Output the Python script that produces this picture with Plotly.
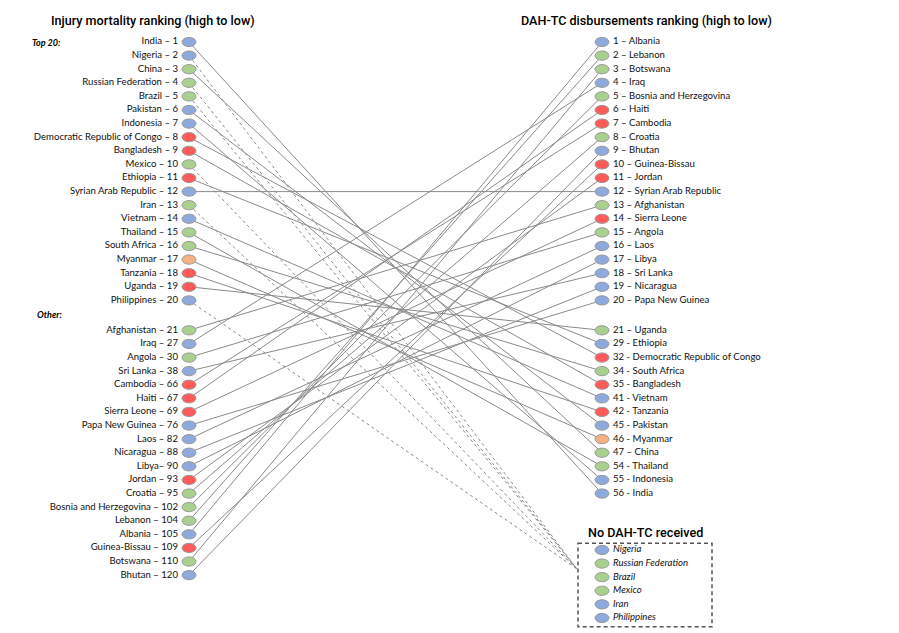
import plotly.graph_objects as go

# ---------------- data ----------------
left_top_names = ["India", "Nigeria", "China", "Russian Federation", "Brazil", "Pakistan",
                  "Indonesia", "Democratic Republic of Congo", "Bangladesh", "Mexico",
                  "Ethiopia", "Syrian Arab Republic", "Iran", "Vietnam", "Thailand",
                  "South Africa", "Myanmar", "Tanzania", "Uganda", "Philippines"]
left_top_ranks = list(range(1, 21))
left_top_colors = ["B", "B", "G", "G", "G", "B", "B", "R", "R", "G",
                   "R", "B", "G", "B", "G", "G", "O", "R", "R", "B"]

left_other_names = ["Afghanistan", "Iraq", "Angola", "Sri Lanka", "Cambodia", "Haiti",
                    "Sierra Leone", "Papa New Guinea", "Laos", "Nicaragua", "Libya",
                    "Jordan", "Croatia", "Bosnia and Herzegovina", "Lebanon", "Albania",
                    "Guinea-Bissau", "Botswana", "Bhutan"]
left_other_ranks = [21, 27, 30, 38, 66, 67, 69, 76, 82, 88, 90, 93, 95, 102, 104, 105, 109, 110, 120]
left_other_colors = ["G", "B", "G", "B", "R", "R", "R", "B", "B", "B", "B",
                     "R", "G", "G", "G", "B", "R", "G", "B"]

right_top_names = ["Albania", "Lebanon", "Botswana", "Iraq", "Bosnia and Herzegovina", "Haiti",
                   "Cambodia", "Croatia", "Bhutan", "Guinea-Bissau", "Jordan",
                   "Syrian Arab Republic", "Afghanistan", "Sierra Leone", "Angola", "Laos",
                   "Libya", "Sri Lanka", "Nicaragua", "Papa New Guinea"]
right_top_ranks = list(range(1, 21))
right_top_colors = ["B", "G", "G", "B", "G", "R", "R", "G", "B", "R",
                    "R", "B", "G", "R", "G", "B", "B", "B", "B", "B"]

right_other_names = ["Uganda", "Ethiopia", "Democratic Republic of Congo", "South Africa",
                     "Bangladesh", "Vietnam", "Tanzania", "Pakistan", "Myanmar", "China",
                     "Thailand", "Indonesia", "India"]
right_other_ranks = [21, 29, 32, 34, 35, 41, 42, 45, 46, 47, 54, 55, 56]
right_other_seps = ["–", "-", "-", "-", "-", "-", "-", "-", "-", "–", "-", "-", "-"]
right_other_colors = ["G", "B", "R", "G", "R", "B", "R", "B", "O", "G", "G", "B", "B"]

no_dah_names = ["Nigeria", "Russian Federation", "Brazil", "Mexico", "Iran", "Philippines"]
no_dah_colors = ["B", "G", "G", "G", "B", "B"]

title_left = "Injury mortality ranking (high to low)"
title_right = "DAH-TC disbursements ranking (high to low)"
box_title = "No DAH-TC received"

# ---------------- style / layout constants ----------------
PALETTE = {"B": "#8EA9DB", "G": "#A9D08E", "R": "#FF5B5B", "O": "#F4B183"}
W, H = 899, 633
PAGE_OFF = 8          # browser body margin
ROW_PX = 13.6
TOP_PX = 42
OTHER_OFFSET = 21.2
X_LEFT, X_RIGHT = 189, 602
X_LEFT_TXT, X_RIGHT_TXT = 178, 613
X_CONVERGE, Y_CONVERGE = 577, 38.75
BOX_X0, BOX_X1, BOX_Y0, BOX_Y1 = 578, 712, 36.85, 43.0
BOX_FIRST = 37.35
FONT = "Lato, Roboto, sans-serif"
TFONT = "Roboto, Lato, sans-serif"
LABEL_SIZE = 9.6
TITLE_SIZE = 12.6
LINE_COL = "#8a8a8a"

# ---------------- slots ----------------
left_names = left_top_names + left_other_names
left_ranks = left_top_ranks + left_other_ranks
left_colors = left_top_colors + left_other_colors
left_slots = list(range(len(left_top_names))) + [OTHER_OFFSET + i for i in range(len(left_other_names))]
left_labels = [f"{n} – {r}" if n != "Libya" else f"{n}– {r}" for n, r in zip(left_names, left_ranks)]

right_names = right_top_names + right_other_names
right_colors = right_top_colors + right_other_colors
right_slots = list(range(len(right_top_names))) + [OTHER_OFFSET + i for i in range(len(right_other_names))]
right_labels = [f"{r} – {n}" for n, r in zip(right_top_names, right_top_ranks)] + \
               [f"{r} {s} {n}" for n, r, s in zip(right_other_names, right_other_ranks, right_other_seps)]

box_slots = [BOX_FIRST + i for i in range(len(no_dah_names))]

fig = go.Figure()

# connecting lines
right_pos = dict(zip(right_names, right_slots))
for n, s in zip(left_names, left_slots):
    if n in right_pos:
        fig.add_trace(go.Scatter(x=[X_LEFT, X_RIGHT], y=[s, right_pos[n]], mode="lines",
                                 line=dict(color=LINE_COL, width=1), hoverinfo="skip",
                                 showlegend=False))
    elif n in no_dah_names:
        fig.add_trace(go.Scatter(x=[X_LEFT, X_CONVERGE], y=[s, Y_CONVERGE], mode="lines",
                                 line=dict(color=LINE_COL, width=1, dash="3px,3px"),
                                 hoverinfo="skip", showlegend=False))

# ellipse markers
shapes = []
def ellipse(cx, cy, c):
    shapes.append(dict(type="circle", xref="x", yref="y", layer="above",
                       x0=cx - 7, x1=cx + 7, y0=cy - 0.34, y1=cy + 0.34,
                       fillcolor=PALETTE[c], line=dict(color="#9a9a9a", width=1)))

for s, c in zip(left_slots, left_colors):
    ellipse(X_LEFT, s, c)
for s, c in zip(right_slots, right_colors):
    ellipse(X_RIGHT, s, c)
for s, c in zip(box_slots, no_dah_colors):
    ellipse(X_RIGHT, s, c)

# box
shapes.append(dict(type="rect", xref="x", yref="y", x0=BOX_X0, x1=BOX_X1, y0=BOX_Y0, y1=BOX_Y1,
                   line=dict(color="#555555", width=1.5, dash="4px,3px")))

# labels
fig.add_trace(go.Scatter(x=[X_LEFT_TXT] * len(left_slots), y=left_slots, mode="text",
                         text=left_labels, textposition="middle left",
                         textfont=dict(family=FONT, size=LABEL_SIZE, color="#111111"),
                         hoverinfo="skip", showlegend=False))
fig.add_trace(go.Scatter(x=[X_RIGHT_TXT] * len(right_slots), y=right_slots, mode="text",
                         text=right_labels, textposition="middle right",
                         textfont=dict(family=FONT, size=LABEL_SIZE, color="#111111"),
                         hoverinfo="skip", showlegend=False))
fig.add_trace(go.Scatter(x=[X_RIGHT_TXT] * len(box_slots), y=box_slots, mode="text",
                         text=[f"<i>{n}</i>" for n in no_dah_names], textposition="middle right",
                         textfont=dict(family=FONT, size=LABEL_SIZE, color="#111111"),
                         hoverinfo="skip", showlegend=False))

annotations = [
    dict(x=153, y=-1.6, text=title_left, showarrow=False, xanchor="center", yanchor="middle",
         font=dict(family=TFONT, size=TITLE_SIZE, color="#000000", weight=500)),
    dict(x=646, y=-1.6, text=title_right, showarrow=False, xanchor="center", yanchor="middle",
         font=dict(family=TFONT, size=TITLE_SIZE, color="#000000", weight=500)),
    dict(x=30, y=0, text="<b><i>Top 20:</i></b>", showarrow=False, xanchor="left", yanchor="middle",
         font=dict(family=FONT, size=9, color="#000000")),
    dict(x=35, y=20, text="<b><i>Other:</i></b>", showarrow=False, xanchor="left", yanchor="middle",
         font=dict(family=FONT, size=9, color="#000000")),
    dict(x=645, y=36.1, text=box_title, showarrow=False, xanchor="center", yanchor="middle",
         font=dict(family=TFONT, size=TITLE_SIZE, color="#000000", weight=500)),
]

y_top = (PAGE_OFF - TOP_PX) / ROW_PX
y_bot = (H - TOP_PX) / ROW_PX
fig.update_layout(
    width=W - PAGE_OFF, height=H - PAGE_OFF, margin=dict(l=0, r=0, t=0, b=0),
    paper_bgcolor="white", plot_bgcolor="white",
    xaxis=dict(range=[PAGE_OFF, W], visible=False, fixedrange=True),
    yaxis=dict(range=[y_bot, y_top], visible=False, fixedrange=True),
    shapes=shapes, annotations=annotations, showlegend=False,
)
fig.write_html("out.html")
